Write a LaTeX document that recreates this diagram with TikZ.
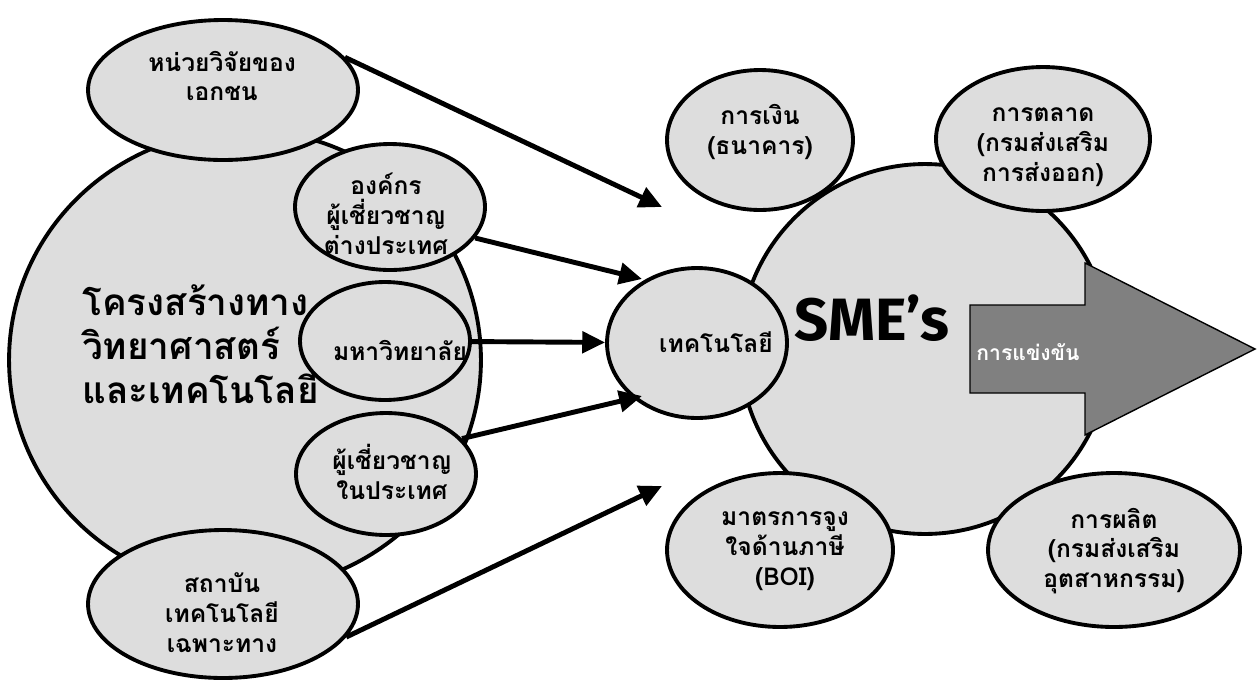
\documentclass[tikz,border=0pt]{standalone}
\usepackage{fontspec}
\setmainfont{Loma}[Script=Thai]
\newfontfamily\smefont{Fira Sans}
\usetikzlibrary{arrows.meta,shapes.geometric}
\definecolor{bubblegray}{HTML}{DDDDDD}
\definecolor{arrowgray}{HTML}{808080}

\begin{document}
\begin{tikzpicture}[x=0.02cm, y=-0.02cm,
    bubble/.style={ellipse, draw, line width=2.2pt, fill=bubblegray, inner sep=0pt},
    lbl/.style={align=center, font=\fontsize{14}{17}\selectfont\bfseries},
    feed/.style={line width=2.8pt, -{Triangle[length=13pt,width=12pt]}}]

  \useasboundingbox (0,0) rectangle (1257,684);

%left side
  \node[bubble, minimum width=9.44cm, minimum height=9.2cm] (infra) at (245,360) {};
  \node[align=left, anchor=west, font=\fontsize{21}{25}\selectfont\bfseries] (infratext) at (76,344)
       {โครงสร้างทาง\\วิทยาศาสตร์\\และเทคโนโลยี};

  \node[bubble, minimum width=5.4cm, minimum height=2.8cm] (priv) at (223,90) {};
  \node[lbl] (privtext) at (222,76) {หน่วยวิจัยของ\\เอกชน};

  \node[bubble, minimum width=3.8cm, minimum height=2.52cm] (abroad) at (390,207) {};
  \node[lbl] (abroadtext) at (386,214) {องค์กร\\ผู้เชี่ยวชาญ\\ต่างประเทศ};

  \node[bubble, minimum width=3.4cm, minimum height=2.36cm] (uni) at (385,341) {};
  \node[lbl] (unitext) at (400,350) {มหาวิทยาลัย};

  \node[bubble, minimum width=3.6cm, minimum height=2.44cm] (local) at (386,474) {};
  \node[lbl] (localtext) at (392,472) {ผู้เชี่ยวชาญ\\ในประเทศ};

  \node[bubble, minimum width=5.4cm, minimum height=2.96cm] (inst) at (223,604) {};
  \node[lbl] (insttext) at (222,613) {สถาบัน\\เทคโนโลยี\\เฉพาะทาง};

%right side
  \node[bubble, minimum width=7.4cm, minimum height=7.4cm] (sme) at (925,349) {};
  \node[font=\smefont\fontsize{34}{36}\selectfont\bfseries] (smetext) at (872,318) {SME’s};

  \node[bubble, minimum width=3.72cm, minimum height=2.8cm] (fin) at (760,140) {};
  \node[lbl] (fintext) at (760,132) {การเงิน\\(ธนาคาร)};

  \node[bubble, minimum width=4.28cm, minimum height=2.88cm] (mkt) at (1043,139) {};
  \node[lbl] (mkttext) at (1043,147) {การตลาด\\(กรมส่งเสริม\\การส่งออก)};

  \node[bubble, minimum width=4.52cm, minimum height=3.08cm] (boi) at (780,550) {};
  \node[lbl] (boitext) at (785,551) {มาตรการจูง\\ใจด้านภาษี\\(BOI)};

  \node[bubble, minimum width=5.04cm, minimum height=3.08cm] (prod) at (1114,550) {};
  \node[lbl] (prodtext) at (1114,551) {การผลิต\\(กรมส่งเสริม\\อุตสาหกรรม)};

  \node[bubble, minimum width=3.6cm, minimum height=3cm] (tech) at (697,343) {};
  \node[lbl] (techtext) at (716,342) {เทคโนโลยี};

  \filldraw[fill=arrowgray, draw=black, line width=0.8pt]
      (970,305) -- (1085,305) -- (1085,263) -- (1255,349) -- (1085,435) -- (1085,393) -- (970,393) -- cycle;
  \node[font=\fontsize{12}{14}\selectfont\bfseries, text=white] (compete) at (1028,352) {การแข่งขัน};

%arrows into technology
  \coordinate (t1) at (662,207);
  \coordinate (t2) at (642,279);
  \coordinate (t4) at (642,396);
  \coordinate (t5) at (662,486);

  \draw[feed] (priv.15) -- (t1);
  \draw[feed] (abroad.-20) -- (t2);
  \draw[feed] (uni) -- (tech);
  \draw[feed] (local.25) -- (t4);
  \draw[feed] (inst.-15) -- (t5);

\end{tikzpicture}
\end{document}
